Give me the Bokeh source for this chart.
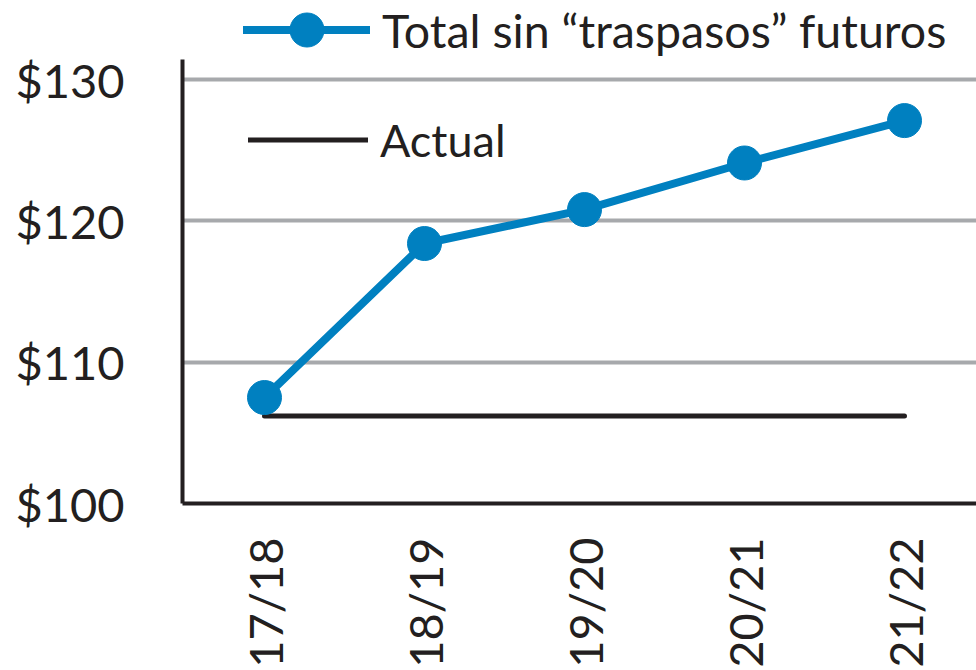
from bokeh.plotting import figure
from bokeh.models import Legend, LegendItem, FixedTicker, Range1d, PrintfTickFormatter
from bokeh.embed import file_html
from bokeh.resources import INLINE
import math

categories = ["17/18", "18/19", "19/20", "20/21", "21/22"]
total_sin_traspasos = [107.5, 118.4, 120.8, 124.1, 127.1]
actual = [106.2, 106.2, 106.2, 106.2, 106.2]
y_ticks = [100, 110, 120, 130]

BLUE = "#0080C0"
DARK = "#231F20"
GRID = "#A7A9AC"
FONT = "Lato"

xs = list(range(len(categories)))

p = figure(width=976, height=670, output_backend="svg", toolbar_location=None,
           x_range=Range1d(-0.5125, 4.45), y_range=Range1d(100, 135.6),
           frame_width=794, frame_height=503,
           min_border_left=182, min_border_right=0, min_border_top=0, min_border_bottom=167)
p.outline_line_color = None
p.background_fill_color = "white"

r_actual = p.line(xs, actual, line_color=DARK, line_width=5, line_cap="round")
r_line = p.line(xs, total_sin_traspasos, line_color=BLUE, line_width=8, line_cap="round", line_join="round")
r_pts = p.scatter(xs, total_sin_traspasos, size=34, marker="circle", fill_color=BLUE, line_color=BLUE)

# axes
p.xaxis.ticker = FixedTicker(ticks=xs)
p.xaxis.major_label_overrides = {i: c for i, c in enumerate(categories)}
p.xaxis.major_label_orientation = math.pi / 2
p.yaxis.ticker = FixedTicker(ticks=y_ticks)
p.yaxis.formatter = PrintfTickFormatter(format="$%d")
p.yaxis.bounds = (100, 131.45)
for ax in (p.xaxis, p.yaxis):
    ax.axis_line_color = DARK
    ax.axis_line_width = 4
    ax.major_tick_line_color = None
    ax.minor_tick_line_color = None
    ax.major_tick_out = 0
    ax.major_tick_in = 0
    ax.major_label_text_font = FONT
    ax.major_label_text_font_size = "47px"
    ax.major_label_text_color = DARK
p.yaxis.major_label_standoff = 58
p.xaxis.major_label_standoff = 34

p.xgrid.grid_line_color = None
p.ygrid.ticker = FixedTicker(ticks=y_ticks)
p.ygrid.grid_line_color = GRID
p.ygrid.grid_line_width = 4

def make_legend(items, loc, gw, fs):
    lg = Legend(items=items, location=loc, orientation="vertical",
                glyph_width=gw, glyph_height=85, label_height=85,
                label_standoff=12, padding=0, margin=0, spacing=0,
                border_line_color=None, background_fill_alpha=0,
                label_text_font=FONT, label_text_font_size=fs,
                label_text_color=DARK)
    p.add_layout(lg, "center")
    return lg

make_legend([LegendItem(label="Total sin \u201ctraspasos\u201d futuros", renderers=[r_line, r_pts])], (61, 431), 127, "46.5px")
make_legend([LegendItem(label="Actual", renderers=[r_actual])], (66, 321), 120, "45px")

open("out.html", "w").write(file_html(p, INLINE))
